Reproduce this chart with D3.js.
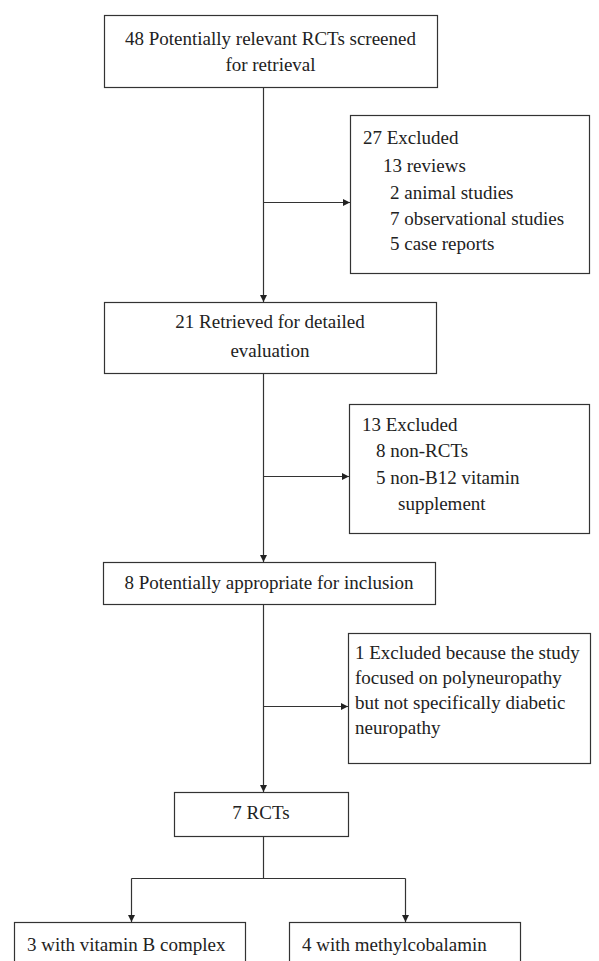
<!DOCTYPE html>
<html>
<head>
<meta charset="utf-8">
<script src="https://cdn.jsdelivr.net/npm/d3@7/dist/d3.min.js"></script>
<style>
  html, body { margin: 0; padding: 0; background: #fff; }
  svg { display: block; }
  text { font-family: "Liberation Serif", "Times New Roman", serif; font-size: 19px; fill: #222; }
</style>
</head>
<body>
<svg id="chart" width="599" height="961"></svg>
<script>
// ---- Data (flowchart content) ----
const stepLabels = [
  ["48 Potentially relevant RCTs screened", "for retrieval"],
  ["21 Retrieved for detailed", "evaluation"],
  ["8 Potentially appropriate for inclusion"],
  ["7 RCTs"]
];
const exclusionLabels = [
  ["27 Excluded", "13 reviews", "2 animal studies", "7 observational studies", "5 case reports"],
  ["13 Excluded", "8 non-RCTs", "5 non-B12 vitamin", "supplement"],
  ["1 Excluded because the study", "focused on polyneuropathy", "but not specifically diabetic", "neuropathy"]
];
const exclusionIndent = [
  [0, 20, 27, 27, 27],
  [0, 14, 14, 36],
  [0, 0, 0, 0]
];
const outcomeLabels = ["3 with vitamin B complex", "4 with methylcobalamin"];

// ---- Layout ----
const svg = d3.select("#chart");
const stroke = "#333";
const defs = svg.append("defs");
defs.append("marker")
  .attr("id", "arrow")
  .attr("viewBox", "0 0 10 10")
  .attr("refX", 10).attr("refY", 5)
  .attr("markerWidth", 8).attr("markerHeight", 7)
  .attr("markerUnits", "userSpaceOnUse")
  .attr("orient", "auto")
  .append("path").attr("d", "M0,0 L10,5 L0,10 Z").attr("fill", "#222");

const stepBoxes = [
  {x0: 104, x1: 437, y0: 15, y1: 87, base: [45, 71]},
  {x0: 104, x1: 436, y0: 302, y1: 373, base: [328, 357]},
  {x0: 103, x1: 435, y0: 562, y1: 604, base: [589]},
  {x0: 174, x1: 348, y0: 792, y1: 836, base: [819]}
];
const exclBoxes = [
  {x0: 350, x1: 589, y0: 115, y1: 273, tx: 363, base: [144, 172, 199, 225, 250], arrowY: 202},
  {x0: 349, x1: 589, y0: 404, y1: 533, tx: 362, base: [431, 457, 484, 510], arrowY: 476},
  {x0: 348, x1: 590, y0: 633, y1: 763, tx: 355, base: [659, 684, 709, 734], arrowY: 706}
];
const outBoxes = [
  {x0: 14, x1: 245, y0: 922, y1: 975, tx: 27, base: 951, cx: 131},
  {x0: 289, x1: 520, y0: 922, y1: 975, tx: 302, base: 951, cx: 405}
];
const spineX = 263;
const branchY = 878;

const g = svg.append("g");

// Step boxes
stepBoxes.forEach((b, i) => {
  g.append("rect")
    .attr("x", b.x0 + 0.5).attr("y", b.y0 + 0.5)
    .attr("width", b.x1 - b.x0).attr("height", b.y1 - b.y0)
    .attr("fill", "none").attr("stroke", stroke).attr("stroke-width", 1.2);
  const cx = (b.x0 + b.x1) / 2;
  g.selectAll(null).data(stepLabels[i]).enter().append("text")
    .attr("x", cx).attr("y", (d, j) => b.base[j])
    .attr("text-anchor", "middle")
    .text(d => d);
});

// Exclusion boxes
exclBoxes.forEach((b, i) => {
  g.append("rect")
    .attr("x", b.x0 + 0.5).attr("y", b.y0 + 0.5)
    .attr("width", b.x1 - b.x0).attr("height", b.y1 - b.y0)
    .attr("fill", "none").attr("stroke", stroke).attr("stroke-width", 1.2);
  g.selectAll(null).data(exclusionLabels[i]).enter().append("text")
    .attr("x", (d, j) => b.tx + exclusionIndent[i][j])
    .attr("y", (d, j) => b.base[j])
    .text(d => d);
  // horizontal arrow from spine
  g.append("line")
    .attr("x1", spineX).attr("y1", b.arrowY + 0.5)
    .attr("x2", b.x0).attr("y2", b.arrowY + 0.5)
    .attr("stroke", stroke).attr("stroke-width", 1.2)
    .attr("marker-end", "url(#arrow)");
});

// Vertical connectors between step boxes
for (let i = 0; i < stepBoxes.length - 1; i++) {
  g.append("line")
    .attr("x1", spineX + 0.5).attr("y1", stepBoxes[i].y1)
    .attr("x2", spineX + 0.5).attr("y2", stepBoxes[i + 1].y0)
    .attr("stroke", stroke).attr("stroke-width", 1.2)
    .attr("marker-end", "url(#arrow)");
}

// Branch to outcomes
const last = stepBoxes[stepBoxes.length - 1];
g.append("line")
  .attr("x1", spineX + 0.5).attr("y1", last.y1)
  .attr("x2", spineX + 0.5).attr("y2", branchY + 0.5)
  .attr("stroke", stroke).attr("stroke-width", 1.2);
g.append("line")
  .attr("x1", outBoxes[0].cx + 0.5).attr("y1", branchY + 0.5)
  .attr("x2", outBoxes[1].cx + 0.5).attr("y2", branchY + 0.5)
  .attr("stroke", stroke).attr("stroke-width", 1.2);

outBoxes.forEach((b, i) => {
  g.append("line")
    .attr("x1", b.cx + 0.5).attr("y1", branchY + 0.5)
    .attr("x2", b.cx + 0.5).attr("y2", b.y0)
    .attr("stroke", stroke).attr("stroke-width", 1.2)
    .attr("marker-end", "url(#arrow)");
  g.append("rect")
    .attr("x", b.x0 + 0.5).attr("y", b.y0 + 0.5)
    .attr("width", b.x1 - b.x0).attr("height", b.y1 - b.y0)
    .attr("fill", "none").attr("stroke", stroke).attr("stroke-width", 1.2);
  g.append("text")
    .attr("x", b.tx).attr("y", b.base)
    .text(outcomeLabels[i]);
});
</script>
</body>
</html>
